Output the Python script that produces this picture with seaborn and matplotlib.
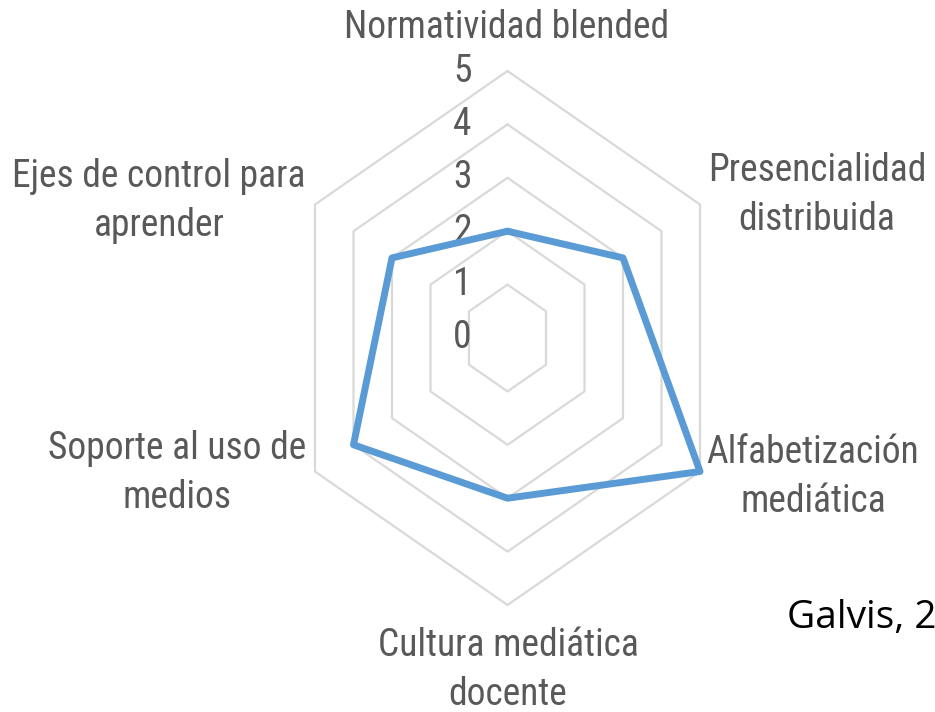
import numpy as np
import pandas as pd
import matplotlib.pyplot as plt
import seaborn as sns

sns.set_theme(style="white")
plt.rcParams['font.family'] = ['Roboto Condensed', 'Liberation Sans Narrow', 'Lato', 'DejaVu Sans']

# data
categories = ["Normatividad blended", "Presencialidad\ndistribuida", "Alfabetización\nmediática",
              "Cultura mediática\ndocente", "Soporte al uso de\nmedios", "Ejes de control para\naprender"]
values = [2, 3, 5, 3, 4, 3]
levels = [1, 2, 3, 4, 5]
tick_labels = ["0", "1", "2", "3", "4", "5"]

# label positions (pixels in the 935x712 canvas)
label_pos = [(507, 28), (817, 195), (813, 477), (508, 670), (177, 473), (159, 201)]

W, H = 935, 712
fig = plt.figure(figsize=(W / 100, H / 100), dpi=100)
ax = fig.add_axes([285.2 / W, 107 / H, 444.6 / W, 534 / H], projection='polar')
ax.set_aspect('auto')
ax.set_theta_offset(np.pi / 2)
ax.set_theta_direction(-1)
ax.set_ylim(0, 5)
ax.grid(False)
ax.spines['polar'].set_visible(False)
ax.set_xticks([])
ax.set_yticks([])
ax.patch.set_alpha(0)

n = len(categories)
theta = np.arange(n) * 2 * np.pi / n
theta_c = np.append(theta, 2 * np.pi)

# hexagon gridlines
for lv in levels:
    ax.plot(theta_c, [lv] * (n + 1), color="#D9D9D9", lw=1.6, clip_on=False, zorder=1)

df = pd.DataFrame({"theta": theta_c, "value": values + values[:1]})
sns.lineplot(data=df, x="theta", y="value", ax=ax, sort=False, estimator=None,
             color="#5B9BD5", lw=5, clip_on=False, zorder=3)
ax.set_xlabel("")
ax.set_ylabel("")

# radial tick labels
for i, t in enumerate(tick_labels):
    ax.text(0.398, 0.5 + i * 0.1, t, transform=ax.transAxes, ha='center', va='center',
            fontsize=27, color="#595959", zorder=2)

for lab, (x, y) in zip(categories, label_pos):
    fig.text(x / W, 1 - y / H, lab, ha='center', va='center', multialignment='center',
             fontsize=27, color="#595959", linespacing=1.4)

fig.text(787 / W, 1 - 618 / H, "Galvis, 2019", ha='left', va='center', fontsize=28,
         color="black", family=['Open Sans', 'DejaVu Sans'])

fig.savefig("out.png", dpi=100)
